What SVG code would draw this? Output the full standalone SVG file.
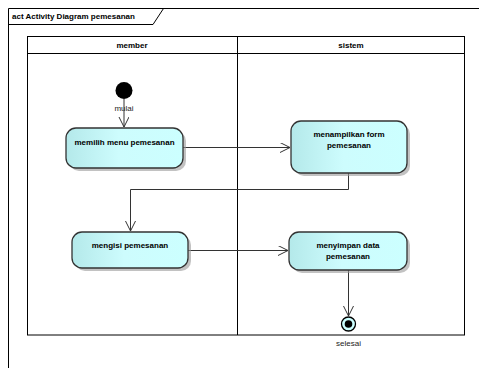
<svg xmlns="http://www.w3.org/2000/svg" width="479" height="368" viewBox="0 0 479 368">
<style>
.ln{stroke:#000;stroke-width:1;fill:none}
.act{fill:url(#g);stroke:#333;stroke-width:1.3}
.sh{fill:#9a9a9a;opacity:0.6}
.t{font-family:"Liberation Sans",Arial,sans-serif;font-size:8px;font-weight:bold;fill:#000;text-anchor:middle}
.l{font-family:"Liberation Sans",Arial,sans-serif;font-size:8px;fill:#222;text-anchor:middle}
.c{stroke:#333;stroke-width:1;fill:none}
</style>
<defs>
<linearGradient id="g" x1="0" y1="0" x2="1" y2="0">
<stop offset="0" stop-color="#b4e9ea"/>
<stop offset="0.45" stop-color="#cdfcfd"/>
<stop offset="1" stop-color="#ccffff"/>
</linearGradient>
<marker id="a" markerWidth="12" markerHeight="12" refX="10" refY="5" orient="auto" markerUnits="userSpaceOnUse">
<path d="M0,0 L10,5 L0,10" fill="none" stroke="#333" stroke-width="1"/>
</marker>
</defs>
<rect width="479" height="368" fill="#fff"/>
<g id="frame">
<path class="ln" d="M8.5,368 V8.5 H479"/>
<path class="ln" d="M8.5,24.5 H153 L163.5,8.5"/>
<text x="12" y="19" font-family="Liberation Sans,Arial,sans-serif" font-size="8" font-weight="bold">act Activity Diagram pemesanan</text>
</g>
<g id="lanes">
<rect x="27.5" y="36.5" width="437" height="298.5" class="ln" stroke="#222"/>
<path class="ln" d="M27.5,53.5 H464.5 M237.5,36.5 V335"/>
<text class="t" x="132" y="48">member</text>
<text class="t" x="351" y="48">sistem</text>
</g>
<g id="connectors">
<path class="c" d="M124,99 V127" marker-end="url(#a)"/>
<path class="c" d="M183,147.5 H290" marker-end="url(#a)"/>
<path class="c" d="M348.5,173 V189.5 H130.5 V231" marker-end="url(#a)"/>
<path class="c" d="M188,250.5 H288" marker-end="url(#a)"/>
<path class="c" d="M348.5,270 V316" marker-end="url(#a)"/>
</g>
<g id="start">
<circle cx="124" cy="90.5" r="8.5" fill="#000"/>
<text class="l" x="124" y="111">mulai</text>
</g>
<g id="act1">
<rect class="sh" x="69" y="131" width="117" height="40" rx="10"/>
<rect class="act" x="66" y="128" width="117" height="40" rx="10"/>
<text class="t" x="124.5" y="145">memilih menu pemesanan</text>
</g>
<g id="act2">
<rect class="sh" x="294" y="124" width="116" height="52" rx="10"/>
<rect class="act" x="291" y="121" width="116" height="52" rx="10"/>
<text class="t" x="349" y="137">menampilkan form</text>
<text class="t" x="349" y="148">pemesanan</text>
</g>
<g id="act3">
<rect class="sh" x="75" y="235" width="116" height="36" rx="10"/>
<rect class="act" x="72" y="232" width="116" height="36" rx="10"/>
<text class="t" x="130" y="248">mengisi pemesanan</text>
</g>
<g id="act4">
<rect class="sh" x="292" y="235" width="118" height="38" rx="10"/>
<rect class="act" x="289" y="232" width="118" height="38" rx="10"/>
<text class="t" x="348" y="248">menyimpan data</text>
<text class="t" x="348" y="259">pemesanan</text>
</g>
<g id="end">
<circle cx="348.5" cy="324" r="7" fill="#ccffff" stroke="#000" stroke-width="1.3"/>
<circle cx="348.5" cy="324" r="3.8" fill="#000"/>
<text class="l" x="348.5" y="346">selesai</text>
</g>
</svg>
